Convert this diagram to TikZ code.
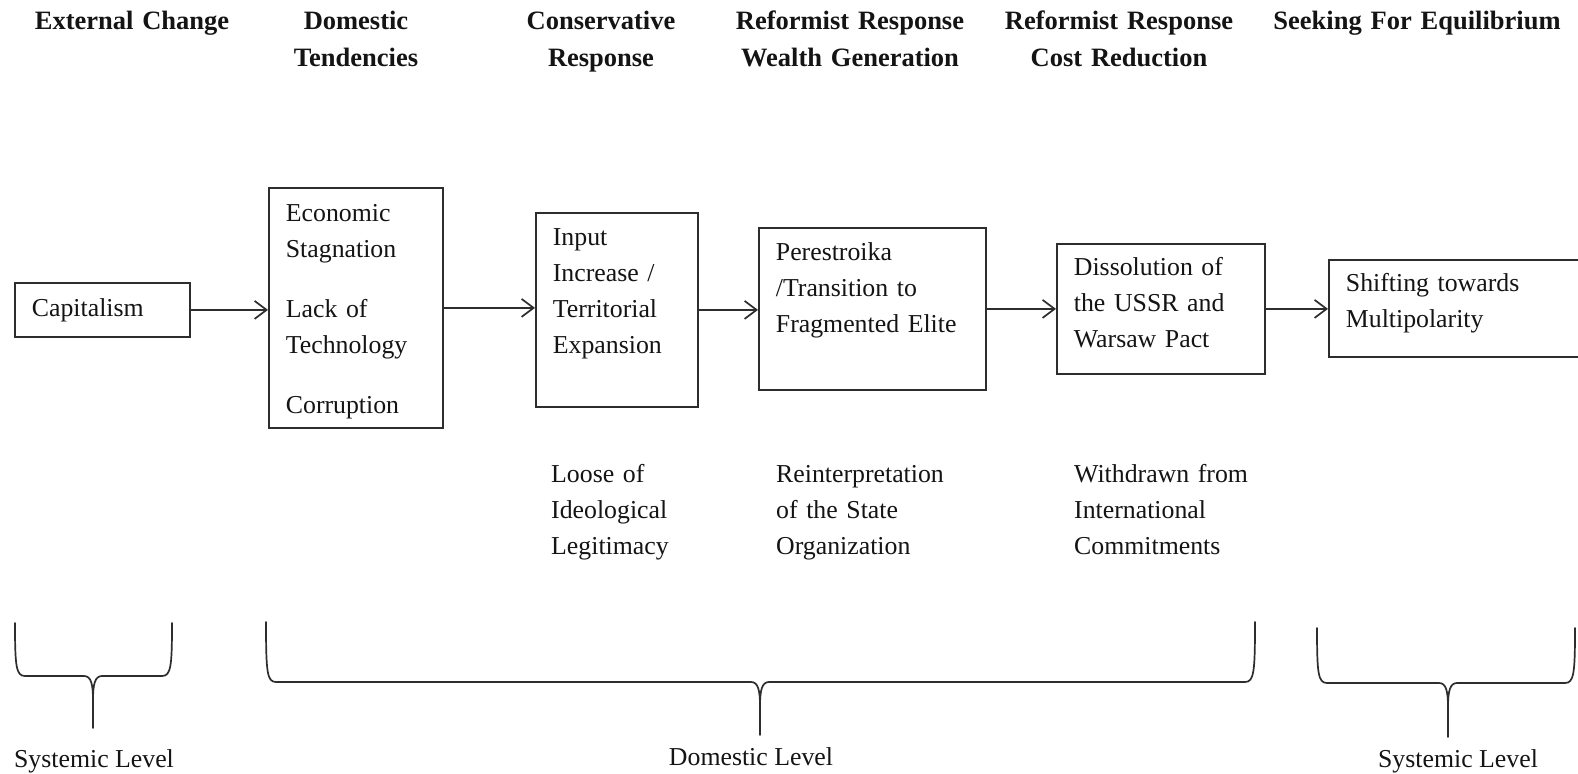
\documentclass[tikz,border=0pt]{standalone}
\usepackage{fontspec}
\setmainfont{Liberation Serif}
\usetikzlibrary{arrows.meta}

\definecolor{linecol}{RGB}{45,45,45}
\definecolor{inkcol}{RGB}{20,20,20}

% font sizes (1pt = 1 output pixel)
\newcommand\bodysize{\fontsize{25.8}{36}\selectfont}
\newcommand\headsize{\fontsize{26.5}{37}\selectfont\bfseries}

\tikzset{
  flowbox/.style={draw=linecol, line width=1.8pt, rectangle, anchor=north west,
    inner xsep=17pt, inner ysep=0pt, align=left, font=\bodysize, text=inkcol},
  flowarrow/.style={draw=linecol, line width=1.7pt,
    -{Straight Barb[length=12pt,width=18pt,line width=1.7pt]}},
  head/.style={anchor=base, text width=320pt, align=center, inner sep=0pt,
    font=\headsize, text=inkcol},
  note/.style={anchor=base west, text width=220pt, align=left, inner sep=0pt,
    font=\bodysize, text=inkcol},
  levellabel/.style={anchor=base, inner sep=0pt, font=\bodysize, text=inkcol},
  bracestyle/.style={draw=linecol, line width=1.7pt, line cap=round}
}

% curly brace: left x, right x, tip x, top y, bar y, tip end y
\newcommand\levelbrace[6]{%
  \draw[bracestyle] (#1,#4) .. controls (#1,#5-10) and (#1+1,#5) .. (#1+10,#5)
    -- (#3-9,#5) .. controls (#3-2,#5) and (#3,#5+8) .. (#3,#5+24) -- (#3,#6);
  \draw[bracestyle] (#2,#4) .. controls (#2,#5-10) and (#2-1,#5) .. (#2-10,#5)
    -- (#3+9,#5) .. controls (#3+2,#5) and (#3,#5+8) .. (#3,#5+24);
}

\begin{document}
\begin{tikzpicture}[x=1pt, y=-1pt]
  \useasboundingbox[fill=white] (0,0) rectangle (1578,773);

  % column headings
  \node[head] (h1) at (132,30) {External Change};
  \node[head] (h2) at (356,30) {Domestic\\Tendencies};
  \node[head] (h3) at (601,30) {Conservative\\Response};
  \node[head] (h4) at (850,30) {Reformist Response\\Wealth Generation};
  \node[head] (h5) at (1119,30) {Reformist Response\\Cost Reduction};
  \node[head] (h6) at (1417,30) {Seeking For Equilibrium};

  % chain of boxes
  \node[flowbox, text width=141pt, text height=34pt, text depth=20pt] (cap) at (14,282)
    {Capitalism};
  \node[flowbox, text width=140pt, text height=34pt, text depth=206pt] (b2) at (268,187)
    {Economic\\Stagnation\\[24pt]Lack of\\Technology\\[24pt]Corruption};
  \node[flowbox, text width=128pt, text height=33pt, text depth=161pt] (b3) at (535,212)
    {Input\\Increase /\\Territorial\\Expansion};
  \node[flowbox, text width=193pt, text height=33pt, text depth=129pt] (b4) at (758,227)
    {Perestroika\\/Transition to\\Fragmented Elite};
  \node[flowbox, text width=174pt, text height=32pt, text depth=98pt] (b5) at (1056,243)
    {Dissolution of\\the USSR and\\Warsaw Pact};
  \node[flowbox, text width=238pt, text height=32pt, text depth=65pt] (b6) at (1328,259)
    {Shifting towards\\Multipolarity};

  % connectors
  \draw[flowarrow] (cap.east) -- (cap.east -| b2.west);
  \draw[flowarrow] (b2.east) -- (b2.east -| b3.west);
  \draw[flowarrow] (b3.east) -- (b3.east -| b4.west);
  \draw[flowarrow] (b4.east) -- (b4.east -| b5.west);
  \draw[flowarrow] (b5.east) -- (b5.east -| b6.west);

  % consequences under the boxes
  \node[note] (n3) at (551,482) {Loose of\\Ideological\\Legitimacy};
  \node[note] (n4) at (776,482) {Reinterpretation\\of the State\\Organization};
  \node[note] (n5) at (1074,482) {Withdrawn from\\International\\Commitments};

  % level braces
  \levelbrace{15}{172}{93}{623}{676}{728}
  \levelbrace{266}{1255}{760}{622}{682}{735}
  \levelbrace{1317}{1575}{1448}{628}{683}{737}

  \node[levellabel] (l1) at (94,767) {Systemic Level};
  \node[levellabel] (l2) at (751,765) {Domestic Level};
  \node[levellabel] (l3) at (1458,767) {Systemic Level};
\end{tikzpicture}
\end{document}
